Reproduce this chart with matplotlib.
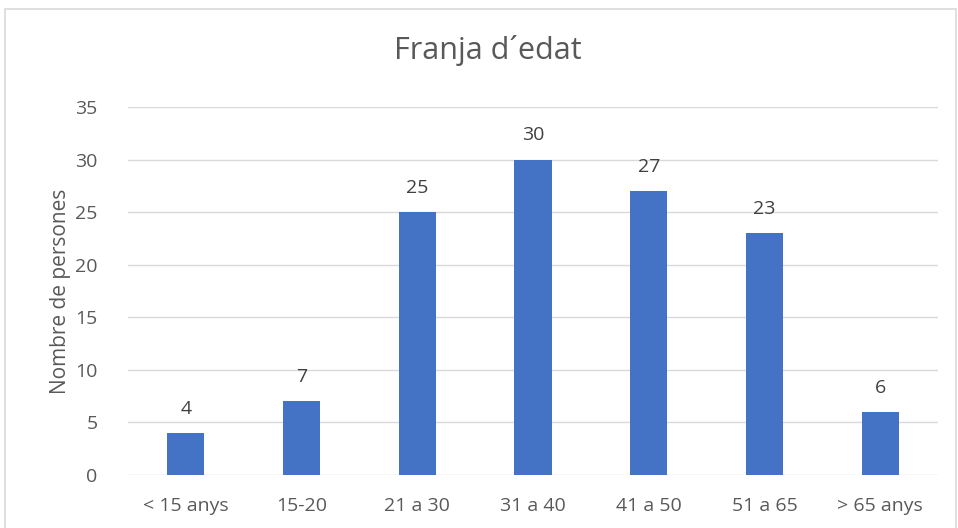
import matplotlib.pyplot as plt
from matplotlib.patches import Rectangle

categories = ["< 15 anys", "15-20", "21 a 30", "31 a 40", "41 a 50", "51 a 65", "> 65 anys"]
values = [4, 7, 25, 30, 27, 23, 6]
yticks = [0, 5, 10, 15, 20, 25, 30, 35]

plt.rcParams['font.family'] = ['Open Sans', 'DejaVu Sans']
txt = '#595959'

fig = plt.figure(figsize=(9.58, 5.28), dpi=100)
ax = fig.add_axes([128/958, 1-475/528, 810/958, 368/528])

# chart area border
fig.patches.append(Rectangle((5/958, -0.05), 951/958, 1.05 - 9/528, transform=fig.transFigure,
                             fill=False, edgecolor='#D9D9D9', linewidth=1.2))

x = range(len(categories))
bars = ax.bar(x, values, width=0.32, color='#4472C4', zorder=3)
for b, v in zip(bars, values):
    ax.annotate(str(v), (b.get_x() + b.get_width()/2, v), xytext=(0, 11), textcoords='offset points',
                ha='center', va='bottom', fontsize=14, color='#404040')

ax.set_xlim(-0.5, len(categories) - 0.5)
ax.set_ylim(0, 35)
ax.set_yticks(yticks)
ax.set_xticks(list(x))
ax.set_xticklabels(categories)
ax.grid(axis='y', color='#D9D9D9', linewidth=1, zorder=0)
for s in ax.spines.values():
    s.set_visible(False)
ax.tick_params(length=0, labelsize=14, colors=txt, pad=16)
ax.tick_params(axis='y', pad=22)
ax.set_ylabel("Nombre de persones", fontsize=15, color=txt, labelpad=3)
fig.text(488/958, 1-50/528, "Franja d´edat", ha='center', va='center', fontsize=22, color=txt)

fig.savefig("out.png", dpi=100)
